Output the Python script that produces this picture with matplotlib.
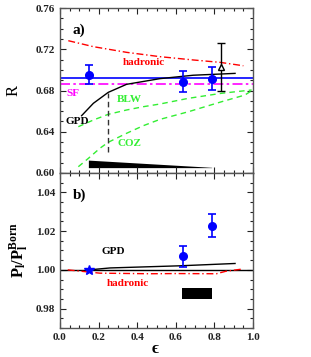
import matplotlib
matplotlib.use("Agg")
import matplotlib.pyplot as plt
import numpy as np
from matplotlib.ticker import MultipleLocator

plt.rcParams['font.family'] = ['Liberation Serif', 'DejaVu Serif']
plt.rcParams['font.weight'] = 'bold'
plt.rcParams['mathtext.fontset'] = 'custom'
plt.rcParams['mathtext.rm'] = 'Liberation Serif'
plt.rcParams['mathtext.bf'] = 'Liberation Serif:bold'

# ---- panel a) data ----
R_eps = [0.152, 0.635, 0.785]
R_val = [0.6955, 0.6886, 0.6915]
R_err = [0.009, 0.0105, 0.011]
tri_eps = [0.834]
tri_val = [0.703]
tri_err = [0.023]
R_mean = 0.692
SF_val = 0.686

had_a_eps = [0.043, 0.173, 0.345, 0.518, 0.691, 0.829, 0.95]
had_a_val = [0.7283, 0.7225, 0.717, 0.7128, 0.7096, 0.7073, 0.704]

gpd_a_eps = [0.112, 0.173, 0.25, 0.345, 0.518, 0.69, 0.907]
gpd_a_val = [0.6556, 0.6676, 0.6782, 0.686, 0.6915, 0.6948, 0.6966]

blw_eps = [0.095, 0.173, 0.25, 0.345, 0.432, 0.518, 0.665, 0.837, 0.993]
blw_val = [0.6449, 0.6514, 0.6569, 0.6611, 0.6643, 0.6669, 0.6724, 0.6773, 0.6805]

coz_eps = [0.095, 0.147, 0.207, 0.25, 0.345, 0.432, 0.518, 0.665, 0.837, 0.958, 0.993]
coz_val = [0.6061, 0.6142, 0.624, 0.6298, 0.6385, 0.6459, 0.652, 0.6594, 0.6691, 0.6756, 0.6798]

vline_eps = 0.247
vline_lo, vline_hi = 0.6207, 0.678

wedge_eps = [0.147, 0.786]
wedge_top = [0.6125, 0.6055]
wedge_bot = 0.6052

# ---- panel b) data ----
P_eps = [0.635, 0.785]
P_val = [1.0070, 1.0229]
P_err = [0.0054, 0.0059]
star_eps = [0.152]
star_val = [1.000]

gpd_b_eps = [0.15, 0.26, 0.62, 0.907]
gpd_b_val = [1.000, 1.001, 1.0021, 1.0033]

had_b_eps = [0.04, 0.207, 0.466, 0.6, 0.81, 0.86, 0.95]
had_b_val = [1.000, 0.9983, 0.998, 0.9981, 0.998, 0.9993, 1.0005]

rect_eps = [0.634, 0.789]
rect_lo, rect_hi = 0.985, 0.9905

fig = plt.figure(figsize=(3.11, 3.57), dpi=100)
L, Rr = 60/311, 253/311
ax1 = fig.add_axes([L, 1-173/357, Rr-L, 165/357])
ax2 = fig.add_axes([L, 1-328/357, Rr-L, 155/357])

def style(ax):
    ax.set_xlim(0, 1)
    ax.xaxis.set_major_locator(MultipleLocator(0.2))
    ax.xaxis.set_minor_locator(MultipleLocator(0.05))
    ax.tick_params(which='both', direction='in', top=True, right=True,
                   labelsize=8, colors='#222222', width=0.8)
    ax.tick_params(which='major', length=4)
    ax.tick_params(which='minor', length=2)
    for s in ax.spines.values():
        s.set_color('#555555')
        s.set_linewidth(1.0)
    for lab in ax.get_xticklabels() + ax.get_yticklabels():
        lab.set_fontweight('bold')

green = '#33ee33'

# panel a
ax1.plot(had_a_eps, had_a_val, color='red', lw=1.0, dashes=[5, 2, 1, 2])
ax1.axhline(R_mean, color='blue', lw=1.2)
ax1.axhline(SF_val, color='magenta', lw=1.2, dashes=[6, 2, 1.5, 2])
ax1.plot(gpd_a_eps, gpd_a_val, color='black', lw=1.0)
ax1.plot(blw_eps, blw_val, color=green, lw=1.0, dashes=[4, 3])
ax1.plot(coz_eps, coz_val, color=green, lw=1.0, dashes=[4, 3])
ax1.plot([vline_eps, vline_eps], [vline_lo, vline_hi], color='#333333', lw=1.0, dashes=[4, 2.5])
ax1.fill_between(wedge_eps, [wedge_bot, wedge_bot], wedge_top, color='black', lw=0)
ax1.errorbar(R_eps, R_val, yerr=R_err, fmt='o', color='blue', ms=5.5, capsize=3, elinewidth=1.2, capthick=1.2)
ax1.errorbar(tri_eps, tri_val, yerr=tri_err, fmt='^', color='black', mfc='white', ms=5, capsize=3, elinewidth=1.0, capthick=1.0)
ax1.set_ylim(0.60, 0.76)
ax1.yaxis.set_major_locator(MultipleLocator(0.04))
ax1.yaxis.set_minor_locator(MultipleLocator(0.01))
style(ax1)
ax1.tick_params(labelbottom=False)
ax1.set_ylabel('R', fontsize=12, labelpad=10)
ax1.text(0.066, 0.7387, 'a)', fontsize=11, fontweight='bold', va='center')
ax1.text(0.433, 0.707, 'hadronic', color='red', fontsize=8, fontweight='bold', ha='center', va='center')
ax1.text(0.035, 0.6773, 'SF', color='magenta', fontsize=8, fontweight='bold', va='center')
ax1.text(0.088, 0.6497, 'GPD', color='black', fontsize=8, fontweight='bold', ha='center', va='center')
ax1.text(0.357, 0.6708, 'BLW', color=green, fontsize=8, fontweight='bold', ha='center', va='center')
ax1.text(0.36, 0.6288, 'COZ', color=green, fontsize=8, fontweight='bold', ha='center', va='center')

# panel b
ax2.axhline(1.0, color='black', lw=1.0)
ax2.plot(gpd_b_eps, gpd_b_val, color='black', lw=1.0)
ax2.plot(had_b_eps, had_b_val, color='red', lw=1.0, dashes=[5, 2, 1, 2])
ax2.fill_between(rect_eps, [rect_lo, rect_lo], [rect_hi, rect_hi], color='black', lw=0)
ax2.errorbar(P_eps, P_val, yerr=P_err, fmt='o', color='blue', ms=5.5, capsize=3, elinewidth=1.2, capthick=1.2)
ax2.plot(star_eps, star_val, '*', color='blue', ms=7)
ax2.set_ylim(0.97, 1.05)
ax2.yaxis.set_major_locator(MultipleLocator(0.02))
ax2.yaxis.set_minor_locator(MultipleLocator(0.005))
style(ax2)
ax2.set_ylabel(r'$\mathbf{P_l/P_l^{Born}}$', fontsize=12, labelpad=4)
fig.text(155/311, 1-349/357, 'ϵ', fontsize=12, ha='center', va='center')
ax2.text(0.066, 1.0387, 'b)', fontsize=11, fontweight='bold', va='center')
ax2.text(0.275, 1.0093, 'GPD', color='black', fontsize=8, fontweight='bold', ha='center', va='center')
ax2.text(0.35, 0.9928, 'hadronic', color='red', fontsize=8, fontweight='bold', ha='center', va='center')

fig.savefig('out.png', dpi=100)
